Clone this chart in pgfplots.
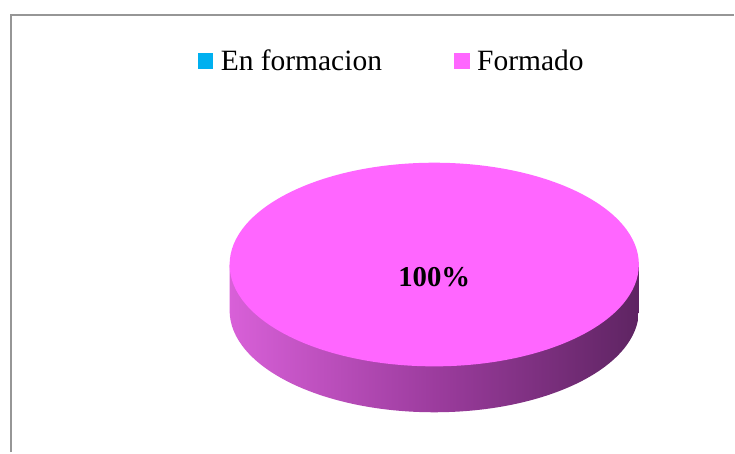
\documentclass[border=0pt]{standalone}
\usepackage{pgfplots}
\pgfplotsset{compat=1.18}
\usepackage{pgfplotstable}
\usepackage{fontspec}
\setmainfont{Liberation Serif}
\definecolor{encyan}{HTML}{00B0F0}
\definecolor{formpink}{HTML}{FF66FF}
\definecolor{sideL}{HTML}{D860D8}
\definecolor{sideM}{HTML}{9C3C9E}
\definecolor{sideR}{HTML}{5E2462}
\definecolor{framegray}{HTML}{969696}
\pgfplotstableread{
cat value
{En formacion} 0
Formado 100
}\piedata
\begin{document}
\begin{tikzpicture}
\begin{axis}[
  x=1cm, y=1cm, scale only axis,
  xmin=0, xmax=36.75, ymin=0, ymax=22.65,
  hide axis, clip=false,
  legend columns=2,
  legend style={at={(axis cs:9.9,19.6)}, anchor=west, draw=none, fill=none,
    inner sep=0pt, font=\fontsize{42}{50}\selectfont,
    /tikz/every odd column/.append style={column sep=0.3cm},
    /tikz/every even column/.append style={column sep=3.55cm}},
  legend image code/.code={\fill[#1] (0cm,-0.39cm) rectangle (0.78cm,0.39cm);},
]
\addlegendimage{fill=encyan, draw=none}
\addlegendentry{En formacion}
\addlegendimage{fill=formpink, draw=none}
\addlegendentry{Formado}
% keep the full canvas in the bounding box
\path (rel axis cs:0,0) (rel axis cs:1,1);
% frame
\draw[framegray, line width=0.13cm] (axis cs:0.55,0) -- (axis cs:0.55,21.9) -- (axis cs:36.75,21.9);
% pie side (depth)
\shade[left color=sideL, right color=sideR, middle color=sideM]
  (axis cs:11.5,9.4) -- (axis cs:11.5,7.1)
  arc[start angle=180, end angle=360, x radius=10.25cm, y radius=5.1cm]
  -- (axis cs:32.0,9.4) -- cycle;
% pie top (100% Formado)
\fill[formpink] (axis cs:21.75,9.4) ellipse [x radius=10.25, y radius=5.1];
\node[font=\fontsize{41}{48}\selectfont\bfseries] at (axis cs:21.75,8.75) {100\%};
\end{axis}
\end{tikzpicture}
\end{document}
